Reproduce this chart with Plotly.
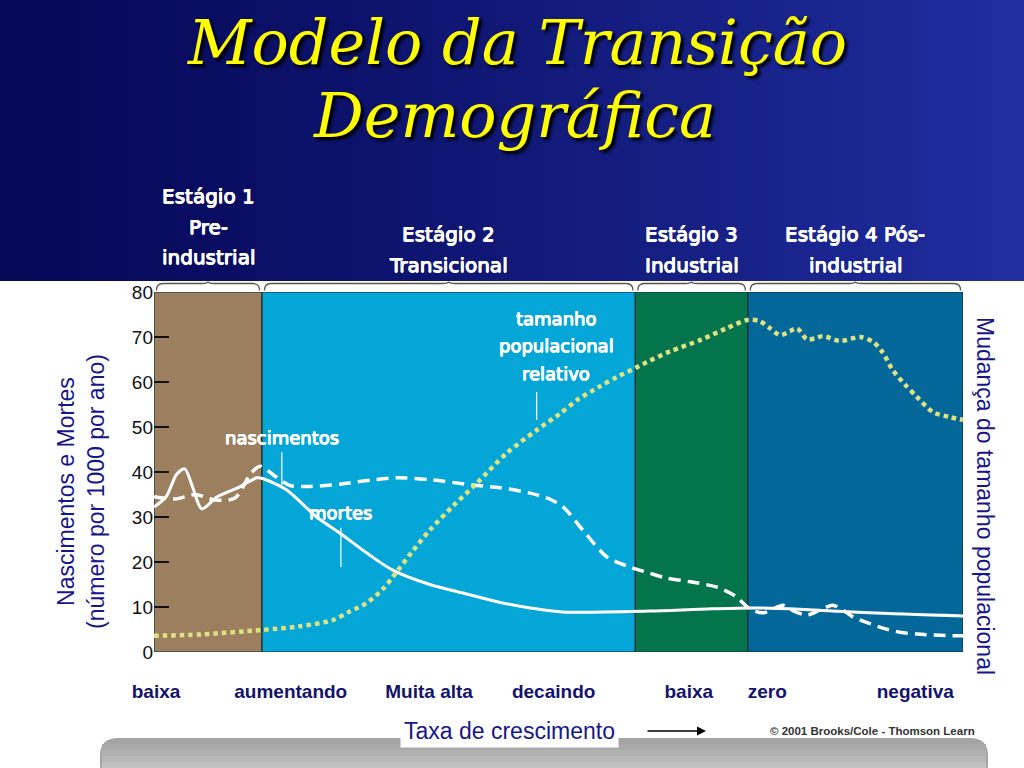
import plotly.graph_objects as go

# ---------------- data ----------------
STAGE_EDGES = [0, 13.35, 59.5, 73.4, 100]
STAGE_COLORS = ["#9C7F5F", "#03A6D6", "#04744D", "#03679A"]
STAGE_LABELS = [["Estágio 1", "Pre-", "industrial"], ["Estágio 2", "Transicional"],
                ["Estágio 3", "Industrial"], ["Estágio 4 Pós-", "industrial"]]

death_x = [0, 1.5, 2.8, 3.8, 4.8, 5.9, 7.8, 10.6, 12.7, 13.5, 16.4, 20.1, 23, 26.3, 29.5,
           34.1, 38.2, 42.8, 46.5, 50.5, 61.3, 67.5, 73.4, 79.8, 88.4, 100]
death_y = [32.2, 34.5, 39.5, 40.7, 36.5, 31.8, 34.5, 36.7, 38.7, 38.5, 36, 30, 26.4, 22, 18.2,
           15, 13.1, 11, 9.8, 8.9, 9.1, 9.5, 9.8, 9.5, 8.7, 8.0]

birth_x = [0, 2.6, 5.1, 7.5, 10.0, 11.9, 13.1, 15.0, 16.8, 19.3, 23.0, 26.7, 30.0, 34.1, 39.4,
           42.8, 46.5, 48.9, 50.6, 53.0, 56.0, 58.8, 61.3, 63.4, 66.3, 69.6, 71.8, 73.7, 75.3,
           76.8, 77.8, 79.2, 80.7, 82.3, 83.9, 85.4, 86.4, 88.5, 90.1, 92.2, 94.3, 97.2, 100]
birth_y = [34.5, 34.0, 35.0, 33.8, 34.2, 39.5, 41.3, 39, 37, 36.8, 37.3, 38.2, 38.7, 38.3, 37.1,
           36.5, 35.3, 34.0, 32.2, 27.1, 21.1, 18.9, 17.5, 16.4, 15.6, 14.4, 12.5, 9.5, 8.7,
           9.8, 10.4, 9.0, 8.2, 9.3, 10.4, 9.0, 7.8, 6.3, 5.3, 4.4, 4.0, 3.7, 3.6]

pop_x = [0, 5.7, 13.3, 18.0, 22.1, 24.2, 26.3, 28.3, 30.0, 32.0, 34.1, 37.0, 39.9, 43.6, 47.3,
         50.2, 52.3, 55.1, 57.2, 59.5, 60.9, 63.8, 67.5, 70.6, 73.4, 74.9, 76.1, 77.4, 78.6,
         79.5, 80.7, 81.7, 82.7, 84.8, 87.3, 88.9, 90.1, 91.3, 92.8, 94.3, 96.3, 98.4, 100]
pop_y = [3.6, 3.9, 4.9, 5.7, 7.1, 9, 10.9, 14, 17.8, 22.5, 27.1, 32.5, 37.5, 44.2, 49.3,
         53, 56, 59, 61.1, 63.1, 64.4, 66.8, 69.3, 71.8, 73.8, 73.5, 72, 70.4, 71.3,
         71.9, 69.5, 69.7, 70.2, 69.1, 70, 68.9, 66.5, 62.7, 59.5, 56.7, 53.3, 52.2, 51.6]

growth_pos = [0.25, 16.9, 34.0, 49.4, 66.1, 75.8, 94.1]
growth_labels = ["baixa", "aumentando", "Muita alta", "decaindo", "baixa", "zero", "negativa"]

y_ticks = [0, 10, 20, 30, 40, 50, 60, 70, 80]

# ---------------- layout geometry ----------------
W, H = 1024, 768
ML, MR, MT, MB = 154, 61, 292, 116
PW, PH = W - ML - MR, H - MT - MB


def px_x(p):
    return (p - ML) / PW


def px_y(p):
    return (H - MB - p) / PH


NAVY = "#16168A"
LABEL_NAVY = "#13136E"
fig = go.Figure()

fig.add_trace(go.Scatter(x=pop_x, y=pop_y, mode="lines", yaxis="y2",
                         line=dict(color="#DFE283", width=4.5, dash="4.5px,4px", shape="spline",
                                   smoothing=0.8),
                         name="tamanho populacional relativo", hoverinfo="skip"))
fig.add_trace(go.Scatter(x=birth_x, y=birth_y, mode="lines",
                         line=dict(color="white", width=3.5, dash="12px,7px", shape="spline",
                                   smoothing=0.8),
                         name="nascimentos", hoverinfo="skip"))
fig.add_trace(go.Scatter(x=death_x, y=death_y, mode="lines",
                         line=dict(color="white", width=3, shape="spline", smoothing=0.8),
                         name="mortes", hoverinfo="skip"))

shapes = []
# slide header background (horizontal gradient)
n = 64
c0, c1 = (6, 8, 88), (32, 46, 160)
for i in range(n):
    t = (i / (n - 1)) ** 1.2
    col = "rgb(%d,%d,%d)" % tuple(int(a + (b - a) * t) for a, b in zip(c0, c1))
    shapes.append(dict(type="rect", xref="paper", yref="paper", x0=px_x(i * 16), x1=px_x(i * 16 + 17),
                       y0=px_y(281), y1=px_y(0), fillcolor=col, line_width=0, layer="below"))

# bottom gray reflection band
bands = [(738, "#A4A4A4"), (744, "#AAAAAA"), (750, "#B1B1B1"), (756, "#B9B9B9"), (762, "#C2C2C2")]
for j, (yy, col) in enumerate(bands):
    r = 18 if j == 0 else 0
    x0, x1 = px_x(100), px_x(988)
    if r:
        path = ("M %f,%f L %f,%f Q %f,%f %f,%f L %f,%f Q %f,%f %f,%f L %f,%f Z" % (
            x0, px_y(768), x0, px_y(yy + r), x0, px_y(yy), px_x(100 + r), px_y(yy),
            px_x(988 - r), px_y(yy), x1, px_y(yy), x1, px_y(yy + r), x1, px_y(768)))
        shapes.append(dict(type="path", xref="paper", yref="paper", path=path,
                           fillcolor=col, line_width=0, layer="below"))
    else:
        shapes.append(dict(type="rect", xref="paper", yref="paper", x0=px_x(100 + 2), x1=px_x(988 - 2),
                           y0=px_y(768), y1=px_y(yy), fillcolor=col, line_width=0, layer="below"))

# stage background rectangles
for i, col in enumerate(STAGE_COLORS):
    shapes.append(dict(type="rect", xref="x", yref="y", x0=STAGE_EDGES[i], x1=STAGE_EDGES[i + 1],
                       y0=0, y1=80, fillcolor=col, line=dict(color="#1E2E2E", width=1.2),
                       layer="below"))

# braces above the stages
for i in range(4):
    a = STAGE_EDGES[i] / 100 + 0.003
    b = STAGE_EDGES[i + 1] / 100 - 0.003
    m = (a + b) / 2
    yb, yt = 1 + 1.5 / PH, 1 + 8.5 / PH
    yp = 1 + 10.5 / PH
    d = 0.008
    path = ("M %f,%f Q %f,%f %f,%f L %f,%f Q %f,%f %f,%f Q %f,%f %f,%f L %f,%f Q %f,%f %f,%f" % (
        a, yb, a, yt, a + d, yt, m - d, yt, m, yt, m, yp, m, yt, m + d, yt,
        b - d, yt, b, yt, b, yb))
    shapes.append(dict(type="path", xref="paper", yref="paper", path=path,
                       line=dict(color="#555555", width=1.3)))

# pointer lines for labels
shapes.append(dict(type="line", xref="x", yref="y", x0=47.3, x1=47.3, y0=51.6, y1=57.8,
                   line=dict(color="white", width=1.2)))
shapes.append(dict(type="line", xref="x", yref="y", x0=15.8, x1=15.8, y0=37.1, y1=44.4,
                   line=dict(color="white", width=1.2)))
shapes.append(dict(type="line", xref="x", yref="y", x0=23.1, x1=23.1, y0=18.9, y1=27.6,
                   line=dict(color="white", width=1.2)))

ann = []
# title
ann.append(dict(xref="paper", yref="paper", x=px_x(517), y=px_y(42), xanchor="center", yanchor="middle",
                text="Modelo da Transição", showarrow=False,
                font=dict(family="DejaVu Serif", style="italic", size=62, color="#FFFF00",
                          shadow="3px 3px 3px #000000")))
ann.append(dict(xref="paper", yref="paper", x=px_x(514), y=px_y(115), xanchor="center", yanchor="middle",
                text="Demográfica", showarrow=False,
                font=dict(family="DejaVu Sans" if False else "DejaVu Serif", style="italic", size=62,
                          color="#FFFF00", shadow="3px 3px 3px #000000")))
# stage labels (one annotation per line)
bold_shadow = "0.5px 0 0 #FFFFFF, -0.5px 0 0 #FFFFFF, 0 0.5px 0 #FFFFFF"
stage_font = dict(family="DejaVu Sans", size=20, color="white", shadow=bold_shadow)
for i, lines in enumerate(STAGE_LABELS):
    cx = (STAGE_EDGES[i] + STAGE_EDGES[i + 1]) / 2
    y_last = 257 if i == 0 else 265
    for k, line in enumerate(lines):
        yy = y_last - 30.5 * (len(lines) - 1 - k)
        ann.append(dict(xref="x", yref="paper", x=cx, y=px_y(yy), xanchor="center",
                        yanchor="middle", text=line, showarrow=False, font=stage_font))
# in-plot labels
lab_font = dict(family="DejaVu Sans", size=18, color="white", shadow=bold_shadow)
for k, line in enumerate(["tamanho", "populacional", "relativo"]):
    ann.append(dict(xref="x", yref="paper", x=49.7, y=px_y(318 + 27.5 * k), text=line,
                    xanchor="center", yanchor="middle", showarrow=False, font=lab_font))
ann.append(dict(xref="x", yref="y", x=15.8, y=47.6, text="nascimentos", showarrow=False,
                yanchor="middle", font=lab_font))
ann.append(dict(xref="x", yref="y", x=23.1, y=30.9, text="mortes", showarrow=False,
                yanchor="middle", font=lab_font))
# axis titles
ann.append(dict(xref="paper", yref="paper", x=px_x(81), y=px_y(492), xanchor="center", yanchor="middle",
                text="Nascimentos e Mortes<br>(número por 1000 por ano)", textangle=-90, showarrow=False,
                font=dict(family="Liberation Sans", size=23, color=NAVY), align="center"))
ann.append(dict(xref="paper", yref="paper", x=px_x(985), y=px_y(496), xanchor="center", yanchor="middle",
                text="Mudança do tamanho populacional", textangle=90, showarrow=False,
                font=dict(family="Liberation Sans", size=23, color=NAVY)))
# bottom caption
ann.append(dict(xref="paper", yref="paper", x=px_x(509), y=px_y(731), xanchor="center", yanchor="middle",
                text="Taxa de crescimento", showarrow=False, bgcolor="white", borderpad=3,
                font=dict(family="Liberation Sans", size=23, color=NAVY)))
ann.append(dict(xref="paper", yref="paper", x=px_x(706), y=px_y(731), ax=-60, ay=0,
                axref="pixel", ayref="pixel", text="", showarrow=True, arrowhead=2, arrowsize=1.2,
                arrowwidth=1.5, arrowcolor="black"))
ann.append(dict(xref="paper", yref="paper", x=px_x(768), y=px_y(731), xanchor="left", yanchor="middle",
                text="© 2001 Brooks/Cole - Thomson Learn", showarrow=False,
                font=dict(family="Liberation Sans", size=11.5, color="#333333", weight="bold")))

fig.update_layout(
    width=W, height=H, margin=dict(l=ML, r=MR, t=MT, b=MB),
    paper_bgcolor="white", plot_bgcolor="white", showlegend=False,
    shapes=shapes, annotations=ann,
    xaxis=dict(range=[0, 100], showgrid=False, zeroline=False, showline=False,
               tickmode="array", tickvals=growth_pos, ticktext=growth_labels, ticks="",
               ticklabelstandoff=26,
               tickfont=dict(family="Liberation Sans", size=19, color=LABEL_NAVY, weight="bold")),
    yaxis=dict(range=[0, 80], showgrid=False, zeroline=False, showline=False,
               tickmode="array", tickvals=y_ticks, ticks="inside", ticklen=15, tickwidth=2,
               tickcolor="#111111", tickfont=dict(family="Liberation Sans", size=19, color="#111111")),
    yaxis2=dict(range=[0, 80], overlaying="y", side="right", showgrid=False, zeroline=False,
                showticklabels=False, ticks=""),
)

fig.write_html("out.html")
